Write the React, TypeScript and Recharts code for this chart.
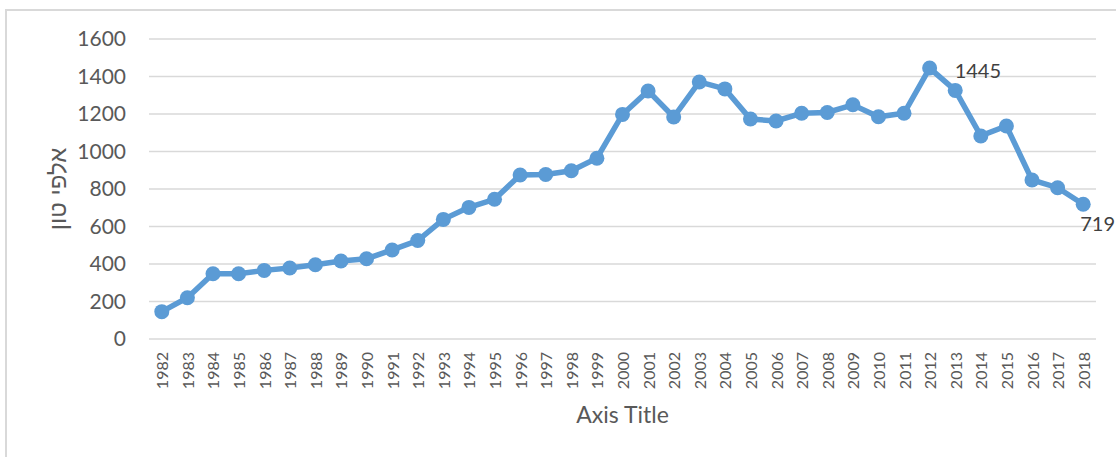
import React from 'react';
import { LineChart, Line, XAxis, YAxis, CartesianGrid, LabelList } from 'recharts';

const years = [
  '1982', '1983', '1984', '1985', '1986', '1987', '1988', '1989', '1990', '1991',
  '1992', '1993', '1994', '1995', '1996', '1997', '1998', '1999', '2000', '2001',
  '2002', '2003', '2004', '2005', '2006', '2007', '2008', '2009', '2010', '2011',
  '2012', '2013', '2014', '2015', '2016', '2017', '2018',
];

const thousandTons = [
  146, 220, 348, 348, 366, 379, 396, 416, 428, 475,
  525, 638, 702, 745, 875, 877, 897, 964, 1198, 1323,
  1184, 1371, 1334, 1173, 1163, 1204, 1208, 1249, 1185, 1204,
  1445, 1326, 1083, 1136, 848, 807, 719,
];

const yTicks = [0, 200, 400, 600, 800, 1000, 1200, 1400, 1600];

const labeledYears = ['2012', '2018'];

const yAxisTitle = 'אלפי טון';
const xAxisTitle = 'Axis Title';

const data = years.map((year, i) => ({ year, value: thousandTons[i] }));

const BLUE = '#5b9bd5';
const GRID = '#d9d9d9';
const TICK = '#595959';
const FONT = 'Lato, "Open Sans", sans-serif';

const YearTick = ({ x, y, payload }: any) => (
  <g transform={`translate(${x},${y})`}>
    <text
      transform="rotate(-90)"
      textAnchor="end"
      dominantBaseline="central"
      fill={TICK}
      fontSize={16}
      fontFamily={FONT}
    >
      {payload.value}
    </text>
  </g>
);

const PointLabel = (props: any) => {
  const { x, y, index } = props;
  const year = years[index];
  if (!labeledYears.includes(year)) return null;
  const text = String(thousandTons[index]);
  const below = year === '2018';
  return (
    <text
      x={below ? x - 3 : x + 25}
      y={below ? y + 19 : y + 2}
      textAnchor="start"
      dominantBaseline="central"
      fill="#404040"
      fontSize={20}
      fontFamily={FONT}
    >
      {text}
    </text>
  );
};

export default function App() {
  return (
    <div style={{ position: 'absolute', left: 0, top: 0, width: 1116, height: 457, overflow: 'hidden', background: '#fff' }}>
      <div
        style={{
          position: 'absolute',
          left: 5,
          top: 9,
          width: 1140,
          height: 480,
          border: `2px solid ${GRID}`,
          boxSizing: 'border-box',
        }}
      />
      <div style={{ position: 'absolute', left: 0, top: 0 }}>
        <LineChart
          width={1116}
          height={457}
          data={data}
          margin={{ top: 39, right: 20, left: 0, bottom: 0 }}
        >
          <CartesianGrid vertical={false} stroke={GRID} strokeWidth={1.5} />
          <XAxis
            dataKey="year"
            height={118}
            interval={0}
            padding={{ left: 12.8, right: 12.8 }}
            axisLine={false}
            tickLine={false}
            tickSize={0}
            tickMargin={13}
            tick={<YearTick />}
            label={{
              content: ({ viewBox }: any) => (
                <text
                  x={viewBox.x + viewBox.width / 2}
                  y={viewBox.y + 75}
                  textAnchor="middle"
                  dominantBaseline="central"
                  fill={TICK}
                  fontSize={23}
                  fontFamily={FONT}
                >
                  {xAxisTitle}
                </text>
              ),
            }}
          />
          <YAxis
            width={149}
            domain={[0, 1600]}
            ticks={yTicks}
            interval={0}
            axisLine={false}
            tickLine={false}
            tickSize={0}
            tickMargin={23}
            tick={{ fill: TICK, fontSize: 21, fontFamily: FONT }}
            label={{
              content: ({ viewBox }: any) => {
                const cx = viewBox.x + 57;
                const cy = viewBox.y + viewBox.height / 2;
                return (
                  <text
                    x={cx}
                    y={cy}
                    transform={`rotate(-90, ${cx}, ${cy})`}
                    textAnchor="middle"
                    dominantBaseline="central"
                    fill={TICK}
                    fontSize={24}
                    fontFamily='"Liberation Sans", "DejaVu Sans", sans-serif'
                  >
                    {yAxisTitle}
                  </text>
                );
              },
            }}
          />
          <Line
            type="linear"
            dataKey="value"
            stroke={BLUE}
            strokeWidth={5.5}
            dot={{ r: 7.5, fill: BLUE, stroke: BLUE, strokeWidth: 0 }}
            activeDot={false}
            isAnimationActive={false}
          >
            <LabelList dataKey="value" content={<PointLabel />} />
          </Line>
        </LineChart>
      </div>
    </div>
  );
}
